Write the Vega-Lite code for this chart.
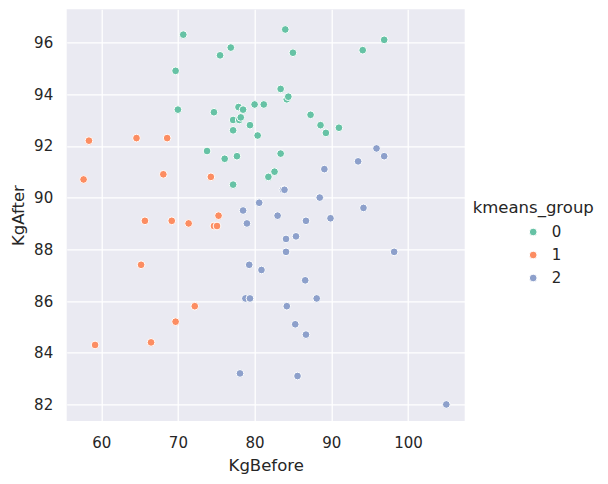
{
  "$schema": "https://vega.github.io/schema/vega-lite/v6.json",
  "autosize": {"type": "none"},
  "padding": {"left": 66.7, "top": 9.3, "right": 143.3, "bottom": 63},
  "width": 398,
  "height": 411.7,
  "background": "white",
  "config": {
    "view": {"fill": "#EAEAF2", "stroke": null},
    "font": "DejaVu Sans",
    "axis": {
      "domain": false,
      "ticks": false,
      "grid": true,
      "gridColor": "white",
      "gridWidth": 1.25,
      "labelFont": "DejaVu Sans",
      "labelFontSize": 15,
      "labelColor": "#262626",
      "labelPadding": 14,
      "titleFont": "DejaVu Sans",
      "titleFontSize": 16.5,
      "titleFontWeight": "normal",
      "titleColor": "#262626",
      "titlePadding": 7
    },
    "legend": {
      "titleFont": "DejaVu Sans",
      "titleFontSize": 16.5,
      "titleFontWeight": "normal",
      "titleColor": "#262626",
      "labelFont": "DejaVu Sans",
      "labelFontSize": 15,
      "labelColor": "#262626"
    }
  },
  "data": {
    "values": [
      {"KgBefore": 70.7, "KgAfter": 96.3, "kmeans_group": "0"},
      {"KgBefore": 76.9, "KgAfter": 95.8, "kmeans_group": "0"},
      {"KgBefore": 75.5, "KgAfter": 95.5, "kmeans_group": "0"},
      {"KgBefore": 69.7, "KgAfter": 94.9, "kmeans_group": "0"},
      {"KgBefore": 70.0, "KgAfter": 93.4, "kmeans_group": "0"},
      {"KgBefore": 74.7, "KgAfter": 93.3, "kmeans_group": "0"},
      {"KgBefore": 77.9, "KgAfter": 93.5, "kmeans_group": "0"},
      {"KgBefore": 78.5, "KgAfter": 93.4, "kmeans_group": "0"},
      {"KgBefore": 80.0, "KgAfter": 93.6, "kmeans_group": "0"},
      {"KgBefore": 81.2, "KgAfter": 93.6, "kmeans_group": "0"},
      {"KgBefore": 77.2, "KgAfter": 93.0, "kmeans_group": "0"},
      {"KgBefore": 78.0, "KgAfter": 93.0, "kmeans_group": "0"},
      {"KgBefore": 78.2, "KgAfter": 93.1, "kmeans_group": "0"},
      {"KgBefore": 79.4, "KgAfter": 92.8, "kmeans_group": "0"},
      {"KgBefore": 77.2, "KgAfter": 92.6, "kmeans_group": "0"},
      {"KgBefore": 80.4, "KgAfter": 92.4, "kmeans_group": "0"},
      {"KgBefore": 73.8, "KgAfter": 91.8, "kmeans_group": "0"},
      {"KgBefore": 76.1, "KgAfter": 91.5, "kmeans_group": "0"},
      {"KgBefore": 77.7, "KgAfter": 91.6, "kmeans_group": "0"},
      {"KgBefore": 81.8, "KgAfter": 90.8, "kmeans_group": "0"},
      {"KgBefore": 77.2, "KgAfter": 90.5, "kmeans_group": "0"},
      {"KgBefore": 84.0, "KgAfter": 96.5, "kmeans_group": "0"},
      {"KgBefore": 85.0, "KgAfter": 95.6, "kmeans_group": "0"},
      {"KgBefore": 94.1, "KgAfter": 95.7, "kmeans_group": "0"},
      {"KgBefore": 96.9, "KgAfter": 96.1, "kmeans_group": "0"},
      {"KgBefore": 83.4, "KgAfter": 94.2, "kmeans_group": "0"},
      {"KgBefore": 84.2, "KgAfter": 93.8, "kmeans_group": "0"},
      {"KgBefore": 84.4, "KgAfter": 93.9, "kmeans_group": "0"},
      {"KgBefore": 87.3, "KgAfter": 93.2, "kmeans_group": "0"},
      {"KgBefore": 88.6, "KgAfter": 92.8, "kmeans_group": "0"},
      {"KgBefore": 89.3, "KgAfter": 92.5, "kmeans_group": "0"},
      {"KgBefore": 91.0, "KgAfter": 92.7, "kmeans_group": "0"},
      {"KgBefore": 83.4, "KgAfter": 91.7, "kmeans_group": "0"},
      {"KgBefore": 82.6, "KgAfter": 91.0, "kmeans_group": "0"},
      {"KgBefore": 58.4, "KgAfter": 92.2, "kmeans_group": "1"},
      {"KgBefore": 64.6, "KgAfter": 92.3, "kmeans_group": "1"},
      {"KgBefore": 68.6, "KgAfter": 92.3, "kmeans_group": "1"},
      {"KgBefore": 57.7, "KgAfter": 90.7, "kmeans_group": "1"},
      {"KgBefore": 68.1, "KgAfter": 90.9, "kmeans_group": "1"},
      {"KgBefore": 74.3, "KgAfter": 90.8, "kmeans_group": "1"},
      {"KgBefore": 65.7, "KgAfter": 89.1, "kmeans_group": "1"},
      {"KgBefore": 69.2, "KgAfter": 89.1, "kmeans_group": "1"},
      {"KgBefore": 71.4, "KgAfter": 89.0, "kmeans_group": "1"},
      {"KgBefore": 75.3, "KgAfter": 89.3, "kmeans_group": "1"},
      {"KgBefore": 74.7, "KgAfter": 88.9, "kmeans_group": "1"},
      {"KgBefore": 75.1, "KgAfter": 88.9, "kmeans_group": "1"},
      {"KgBefore": 65.2, "KgAfter": 87.4, "kmeans_group": "1"},
      {"KgBefore": 72.2, "KgAfter": 85.8, "kmeans_group": "1"},
      {"KgBefore": 69.7, "KgAfter": 85.2, "kmeans_group": "1"},
      {"KgBefore": 66.5, "KgAfter": 84.4, "kmeans_group": "1"},
      {"KgBefore": 59.2, "KgAfter": 84.3, "kmeans_group": "1"},
      {"KgBefore": 80.6, "KgAfter": 89.8, "kmeans_group": "2"},
      {"KgBefore": 78.5, "KgAfter": 89.5, "kmeans_group": "2"},
      {"KgBefore": 95.9, "KgAfter": 91.9, "kmeans_group": "2"},
      {"KgBefore": 96.9, "KgAfter": 91.6, "kmeans_group": "2"},
      {"KgBefore": 93.5, "KgAfter": 91.4, "kmeans_group": "2"},
      {"KgBefore": 89.1, "KgAfter": 91.1, "kmeans_group": "2"},
      {"KgBefore": 83.7, "KgAfter": 90.3, "kmeans_group": "2"},
      {"KgBefore": 83.9, "KgAfter": 90.3, "kmeans_group": "2"},
      {"KgBefore": 88.5, "KgAfter": 90.0, "kmeans_group": "2"},
      {"KgBefore": 94.2, "KgAfter": 89.6, "kmeans_group": "2"},
      {"KgBefore": 79.0, "KgAfter": 89.0, "kmeans_group": "2"},
      {"KgBefore": 79.3, "KgAfter": 87.4, "kmeans_group": "2"},
      {"KgBefore": 80.9, "KgAfter": 87.2, "kmeans_group": "2"},
      {"KgBefore": 78.8, "KgAfter": 86.1, "kmeans_group": "2"},
      {"KgBefore": 79.4, "KgAfter": 86.1, "kmeans_group": "2"},
      {"KgBefore": 78.1, "KgAfter": 83.2, "kmeans_group": "2"},
      {"KgBefore": 83.0, "KgAfter": 89.3, "kmeans_group": "2"},
      {"KgBefore": 86.7, "KgAfter": 89.1, "kmeans_group": "2"},
      {"KgBefore": 89.9, "KgAfter": 89.2, "kmeans_group": "2"},
      {"KgBefore": 84.1, "KgAfter": 88.4, "kmeans_group": "2"},
      {"KgBefore": 85.4, "KgAfter": 88.5, "kmeans_group": "2"},
      {"KgBefore": 84.1, "KgAfter": 87.9, "kmeans_group": "2"},
      {"KgBefore": 98.2, "KgAfter": 87.9, "kmeans_group": "2"},
      {"KgBefore": 86.6, "KgAfter": 86.8, "kmeans_group": "2"},
      {"KgBefore": 88.1, "KgAfter": 86.1, "kmeans_group": "2"},
      {"KgBefore": 84.2, "KgAfter": 85.8, "kmeans_group": "2"},
      {"KgBefore": 85.3, "KgAfter": 85.1, "kmeans_group": "2"},
      {"KgBefore": 86.7, "KgAfter": 84.7, "kmeans_group": "2"},
      {"KgBefore": 85.6, "KgAfter": 83.1, "kmeans_group": "2"},
      {"KgBefore": 105.0, "KgAfter": 82.0, "kmeans_group": "2"}
    ]
  },
  "mark": {"type": "circle", "size": 60, "opacity": 1, "stroke": "white", "strokeWidth": 1},
  "encoding": {
    "x": {
      "field": "KgBefore",
      "type": "quantitative",
      "scale": {"domain": [55.5, 107.4], "nice": false, "zero": false},
      "axis": {"values": [60, 70, 80, 90, 100], "title": "KgBefore"}
    },
    "y": {
      "field": "KgAfter",
      "type": "quantitative",
      "scale": {"domain": [81.36, 97.28], "nice": false, "zero": false},
      "axis": {"values": [82, 84, 86, 88, 90, 92, 94, 96], "title": "KgAfter"}
    },
    "color": {
      "field": "kmeans_group",
      "type": "nominal",
      "scale": {"domain": ["0", "1", "2"], "range": ["#66c2a5", "#fc8d62", "#8da0cb"]},
      "legend": {
        "title": "kmeans_group",
        "orient": "none",
        "legendX": 406,
        "legendY": 190.7,
        "padding": 0,
        "titlePadding": 8,
        "rowPadding": 7,
        "symbolType": "circle",
        "symbolSize": 60,
        "symbolOffset": 53,
        "symbolStrokeColor": "white",
        "symbolStrokeWidth": 1,
        "labelOffset": 11
      }
    }
  }
}
